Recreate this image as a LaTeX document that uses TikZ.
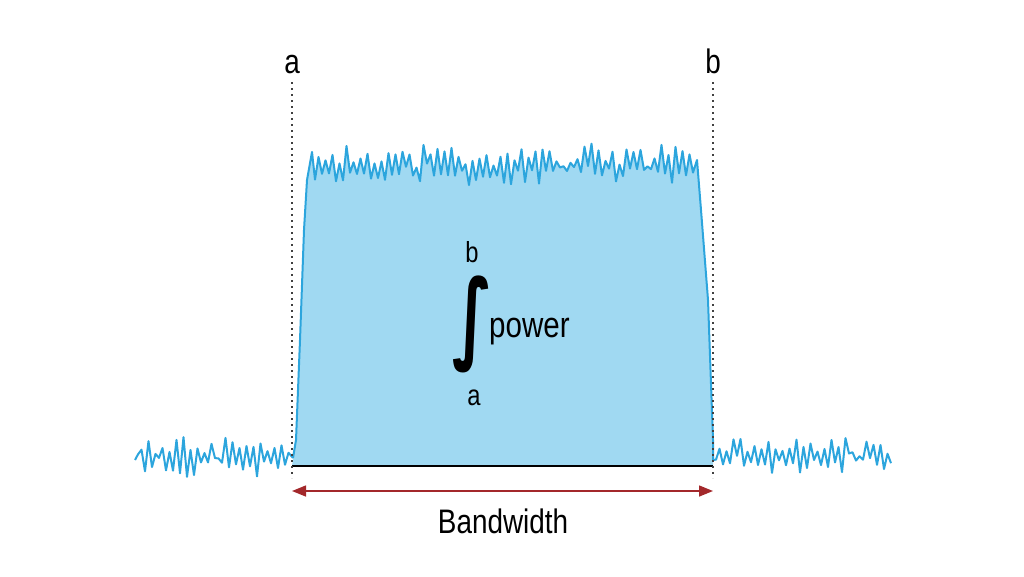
\documentclass[tikz,border=0pt]{standalone}
\usepackage{fontspec}
\setmainfont{Liberation Sans}
\newfontfamily\intfont{DejaVu Sans}
\usetikzlibrary{arrows.meta, calc}
\definecolor{trace}{HTML}{2CA5DD}
\definecolor{band}{HTML}{A0D9F2}
\definecolor{arrowred}{HTML}{A3282B}
\definecolor{baseline}{HTML}{1B2B38}
\newcommand{\narrow}[1]{\scalebox{0.82}[1]{#1}}

\begin{document}
\begin{tikzpicture}[x=1pt, y=-1pt,
	trace/.style={draw=trace, line width=2pt, line join=round},
	marker/.style={draw=black!75, line width=2pt, dash pattern=on 2pt off 4pt},
	label/.style={inner sep=0pt, anchor=base, font=\fontsize{34}{34}\selectfont},
	limit/.style={inner sep=0pt, anchor=base, font=\fontsize{29}{29}\selectfont}]
	\useasboundingbox (0,0) rectangle (1024,576);
	\coordinate (A) at (292,82);
	\coordinate (B) at (292,478);
	\coordinate (C) at (713,82);
	\coordinate (D) at (713,478);
	\coordinate (E) at (292,466);
	\coordinate (F) at (713,466);
	\coordinate (G) at (292,491);
	\coordinate (H) at (713,491);
	\coordinate (L) at (293,458);
	\coordinate (R) at (713,460);
	% band between the markers
	\pgfmathsetseed{17}
	\fill [band] (E) -- (296,440) -- (300,340) -- (304,230) -- (307,180) -- (312,152)
		\foreach \x [count=\k] in {315,318.5,...,694} { -- (\x,{165+6*rand+(2*mod(\k,2)-1)*(2+15*rnd)}) }
		-- (697,160) -- (701,210) -- (708,300) -- (713,440) -- (F) -- cycle;
	\pgfmathsetseed{17}
	\draw [trace] (L) -- (296,440) -- (300,340) -- (304,230) -- (307,180) -- (312,152)
		\foreach \x [count=\k] in {315,318.5,...,694} { -- (\x,{165+6*rand+(2*mod(\k,2)-1)*(2+15*rnd)}) }
		-- (697,160) -- (701,210) -- (708,300) -- (713,440) -- (R);
	% noise floor
	\pgfmathsetseed{5}
	\draw [trace] (135,460) \foreach \x [count=\k] in {138,141.5,...,289} { -- (\x,{457+6*rand+(2*mod(\k,2)-1)*(2+13*rnd)}) } -- (L);
	\draw [trace] (R) \foreach \x [count=\k] in {716,719.5,...,893} { -- (\x,{455+6*rand+(2*mod(\k,2)-1)*(2+13*rnd)}) };
	\draw [line width=2.5pt, baseline] (E) -- (F);
	\draw [marker] (A) -- (B);
	\draw [marker] (C) -- (D);
	\draw [arrowred, line width=1.5pt, {Triangle[length=14pt,width=11pt]}-{Triangle[length=14pt,width=11pt]}] (G) -- (H);
	\node [label] (la) at (292,73) {\narrow{a}};
	\node [label] (lb) at (713,73) {\narrow{b}};
	\node [label] (bw) at (503,533) {\narrow{Bandwidth}};
	\node [inner sep=0pt] (int) at (473,324) {\scalebox{1.1}[1.65]{\intfont\bfseries\fontsize{60}{60}\selectfont ∫}};
	\node [limit] (ub) at (472,262) {\narrow{b}};
	\node [limit] (lw) at (474,405) {\narrow{a}};
	\node [label, anchor=base west, font=\fontsize{36}{36}\selectfont] (pw) at (489,337) {\narrow{power}};
\end{tikzpicture}
\end{document}
